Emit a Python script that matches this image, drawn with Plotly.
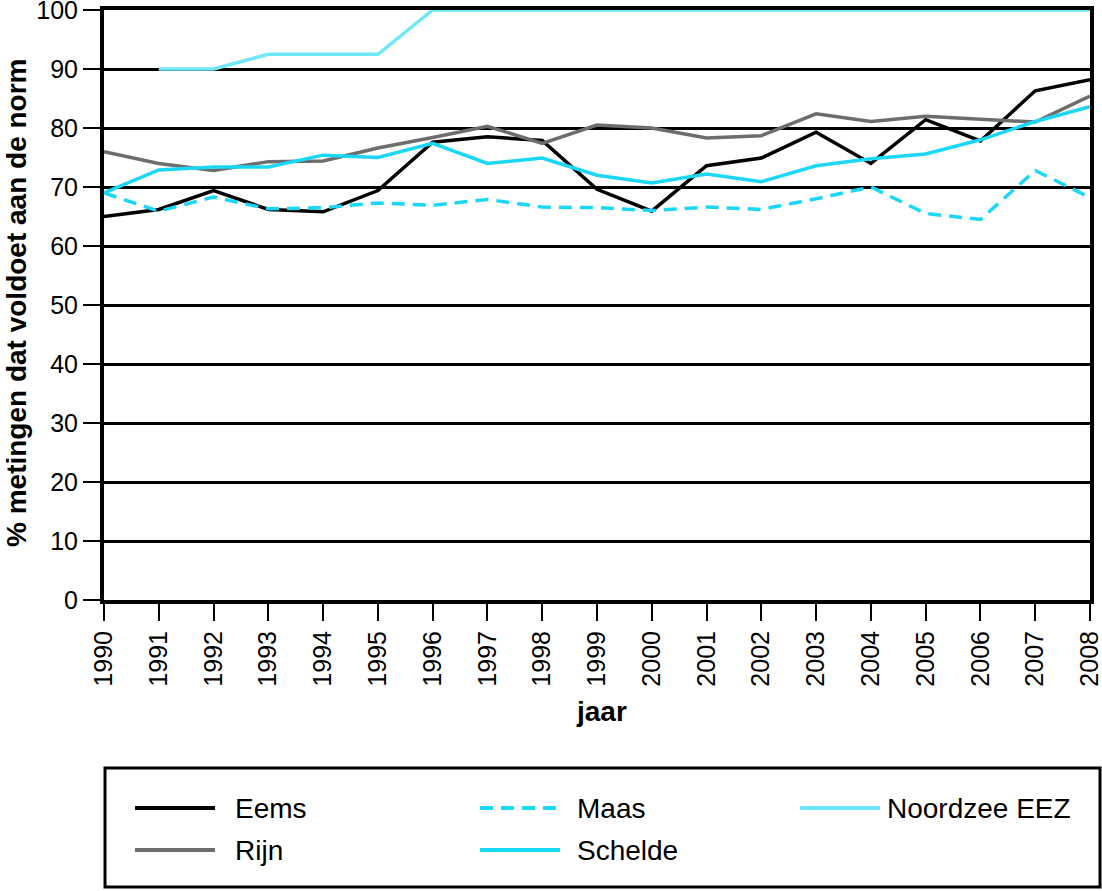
import plotly.graph_objects as go

years = list(range(1990, 2009))
eems = [65.0, 66.2, 69.4, 66.2, 65.8, 69.4, 77.6, 78.5, 77.9, 69.6, 65.9, 73.6, 74.9, 79.3, 74.0, 81.4, 77.8, 86.3, 88.2]
rijn = [76.0, 74.0, 72.8, 74.3, 74.4, 76.6, 78.4, 80.3, 77.4, 80.5, 80.0, 78.3, 78.7, 82.4, 81.1, 82.0, 81.5, 81.0, 85.4]
maas = [69.0, 65.9, 68.3, 66.3, 66.5, 67.3, 66.9, 67.9, 66.6, 66.5, 66.0, 66.6, 66.2, 68.0, 70.0, 65.5, 64.5, 72.8, 68.2]
schelde = [69.0, 72.9, 73.4, 73.4, 75.4, 75.0, 77.4, 74.0, 74.9, 72.0, 70.7, 72.2, 70.9, 73.6, 74.8, 75.6, 78.0, 81.1, 83.6]
noordzee = [None, 90.0, 90.0, 92.5, 92.5, 92.5, 100, 100, 100, 100, 100, 100, 100, 100, 100, 100, 100, 100, 100]

names = ["Eems", "Rijn", "Maas", "Schelde", "Noordzee EEZ"]
values = [eems, rijn, maas, schelde, noordzee]
colors = ["#000000", "#6d6d6d", "#1ad8f5", "#1ad8f5", "#70e8f8"]
dashes = ["solid", "solid", "13px,8px", "solid", "solid"]

FONT = "Liberation Sans, Arial, sans-serif"

fig = go.Figure()
for n, v, c, d in zip(names, values, colors, dashes):
    fig.add_trace(go.Scatter(x=years, y=v, name=n, mode="lines",
                             line=dict(color=c, width=3.5, dash=d),
                             showlegend=False, connectgaps=False))

W, H = 1102, 891
L, R, T, B = 104, 12, 10, 291
pw, ph = W - L - R, H - T - B

def px(x):
    return (x - L) / pw

def py(y):
    return (H - B - y) / ph

# legend box
shapes = [dict(type="rect", xref="paper", yref="paper",
               x0=px(105), x1=px(1100), y0=py(887), y1=py(768),
               line=dict(color="black", width=3), fillcolor="rgba(0,0,0,0)")]
annotations = []
legend_pos = [(135, 808), (135, 850), (480, 808), (480, 850), (800, 808)]
text_x = {135: 233, 480: 575, 800: 885}
for (lx, ly), n, c, d in zip(legend_pos, names, colors, dashes):
    shapes.append(dict(type="line", xref="paper", yref="paper",
                       x0=px(lx), x1=px(lx + 80), y0=py(ly), y1=py(ly),
                       line=dict(color=c, width=4, dash=d)))
    annotations.append(dict(xref="paper", yref="paper", x=px(text_x[lx]), y=py(ly),
                            text=n, showarrow=False, xanchor="left", yanchor="middle",
                            font=dict(family=FONT, size=28, color="black")))

annotations.append(dict(xref="paper", yref="paper", x=px(601), y=py(711),
                        text="<b>jaar</b>", showarrow=False, xanchor="center", yanchor="middle",
                        font=dict(family=FONT, size=28, color="black")))
annotations.append(dict(xref="paper", yref="paper", x=px(16), y=py(303),
                        text="<b>% metingen dat voldoet aan de norm</b>", showarrow=False,
                        textangle=-90, xanchor="center", yanchor="middle",
                        font=dict(family=FONT, size=28, color="black")))

fig.update_layout(
    width=W, height=H,
    margin=dict(l=L, r=R, t=T, b=B, pad=0, autoexpand=False),
    paper_bgcolor="white", plot_bgcolor="white",
    font=dict(family=FONT, size=25, color="black"),
    shapes=shapes, annotations=annotations,
    showlegend=False,
)
fig.update_xaxes(range=[1990, 2008], tickvals=years, ticktext=[str(y) for y in years],
                 tickangle=-90, ticks="outside", ticklen=17, tickwidth=2, tickcolor="black",
                 showline=True, linecolor="black", linewidth=4, mirror=True,
                 showgrid=False, zeroline=False, tickfont=dict(size=25),
                 ticklabeloverflow="allow", automargin=False)
fig.update_yaxes(range=[0, 100], dtick=10, ticks="outside", ticklen=17, tickwidth=2,
                 tickcolor="black", showline=True, linecolor="black", linewidth=4, mirror=True,
                 showgrid=True, gridcolor="black", gridwidth=2.5, zeroline=False,
                 tickfont=dict(size=25), ticklabeloverflow="allow", automargin=False)

fig.write_html("out.html")
